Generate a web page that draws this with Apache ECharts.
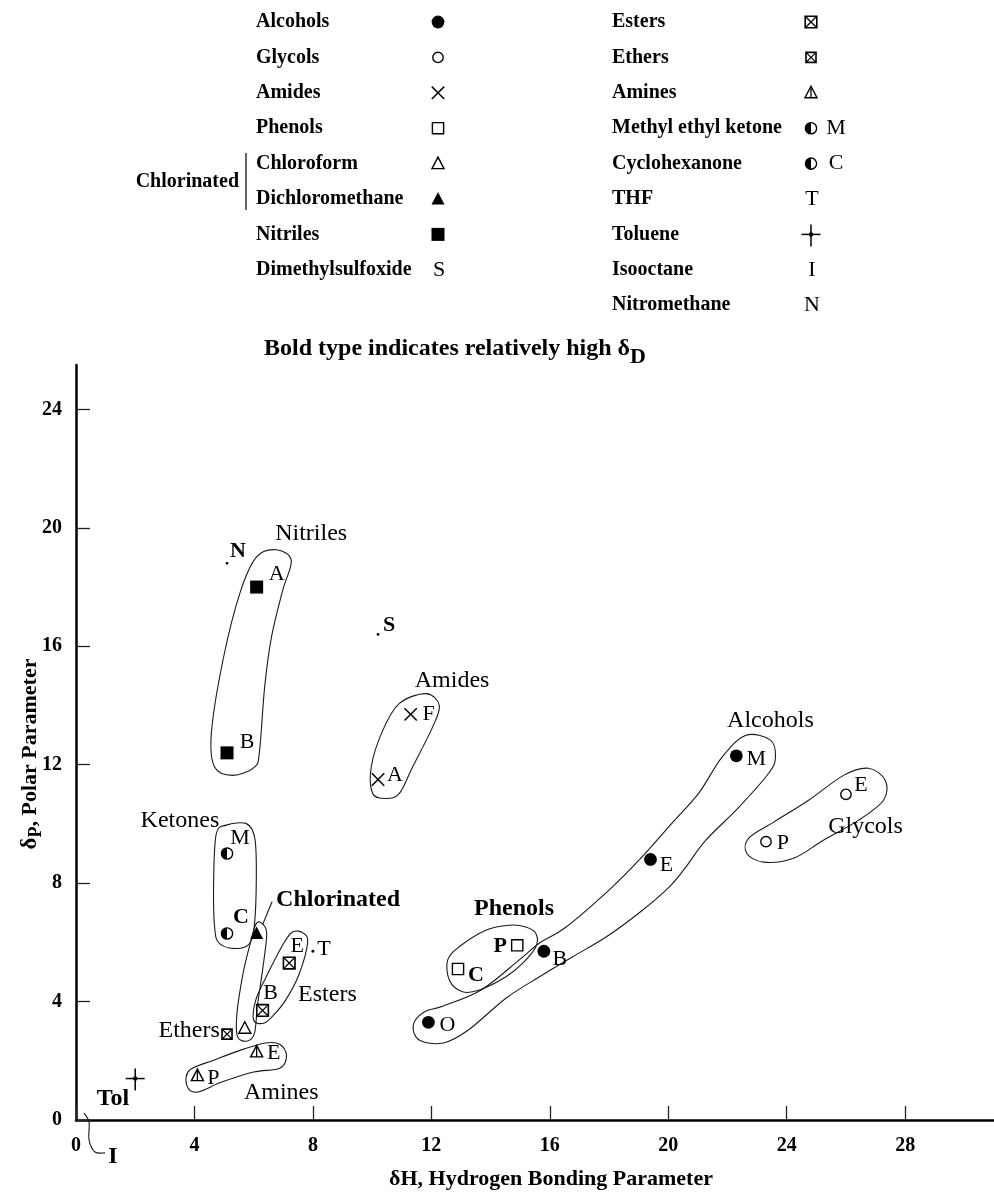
<!DOCTYPE html>
<html>
<head>
<meta charset="utf-8">
<script src="https://cdn.jsdelivr.net/npm/echarts@6/dist/echarts.min.js"></script>
<style>
html, body { margin: 0; padding: 0; background: #fff; }
#chart { width: 994px; height: 1192px; }
</style>
</head>
<body>
<div id="chart"></div>
<script>
// ---- Solvent data: [δH, δP, point letter] ----
const alcohols        = [[22.3, 12.3, 'M'], [19.4, 8.8, 'E'], [15.8, 5.7, 'B'], [11.9, 3.3, 'O']];
const glycols         = [[26.0, 11.0, 'E'], [23.3, 9.4, 'P']];
const amides          = [[11.3, 13.7, 'F'], [10.2, 11.5, 'A']];
const phenols         = [[14.9, 5.9, 'P'], [12.9, 5.1, 'C']];
const chloroform      = [[5.7, 3.1, '']];
const dichloromethane = [[6.1, 6.3, '']];
const nitriles        = [[6.1, 18.0, 'A'], [5.1, 12.4, 'B']];
const dmso            = [[10.2, 16.4, 'S']];
const esters          = [[7.2, 5.3, 'E'], [6.3, 3.7, 'B']];
const ethers          = [[5.1, 2.9, '']];
const amines          = [[6.1, 2.3, 'E'], [4.1, 1.5, 'P']];
const ketones         = [[5.1, 9.0, 'M'], [5.1, 6.3, 'C']];
const thf             = [[8.0, 5.7, 'T']];
const toluene         = [[2.0, 1.4, '']];
const isooctane       = [[0.0, 0.0, '']];
const nitromethane    = [[5.1, 18.8, 'N']];

// ---- Axis ticks ----
const xTicks = [0, 4, 8, 12, 16, 20, 24, 28];
const yTicks = [0, 4, 8, 12, 16, 20, 24];

// ---- Hand-drawn family outlines (δH, δP) ----
const nitrilesLoop = [[6.76,19.26],[7.27,18.9],[6.98,17.89],[6.6,16.31],[6.37,14.62],[6.2,12.49],[6.03,11.92],[5.29,11.64],[4.68,11.92],[4.57,13.05],[4.96,15.52],[5.53,17.78],[6.09,19.01]];
const amidesLoop   = [[11.82,14.4],[12.27,14.0],[12.04,13.27],[11.37,11.93],[10.92,11.03],[10.47,10.86],[10.02,11.03],[9.97,11.93],[10.36,13.16],[10.92,14.07]];
const alcoholsLoop = [[21.81,12.25],[22.61,12.99],[23.45,12.83],[23.62,12.25],[23.39,11.71],[22.38,10.56],[21.27,9.45],[20.59,8.54],[20.02,7.86],[19.01,6.99],[17.9,6.18],[16.75,5.5],[15.64,4.83],[14.53,4.12],[13.25,3.04],[12.4,2.6],[11.59,2.7],[11.39,3.21],[11.76,3.65],[12.4,3.85],[13.68,4.39],[14.96,5.4],[15.64,5.97],[16.54,6.51],[18.1,7.86],[19.11,8.88],[20.12,10.02],[21.03,11.04]];
const phenolsLoop  = [[15.19,6.52],[15.53,6.3],[15.53,5.85],[15.08,5.29],[14.52,4.84],[13.62,4.39],[13.05,4.33],[12.61,4.72],[12.55,5.4],[12.94,5.85],[13.84,6.41],[14.63,6.58]];
const glycolsLoop  = [[22.72,9.52],[23.56,10.06],[24.74,10.8],[25.92,11.64],[26.76,11.88],[27.33,11.47],[27.27,10.8],[26.42,10.12],[25.24,9.45],[24.23,8.84],[23.22,8.71],[22.65,9.01]];
const ketonesLoop  = [[5.08,9.96],[5.75,10.01],[6.03,9.56],[6.09,8.44],[6.03,6.64],[5.86,5.96],[5.42,5.79],[4.85,5.96],[4.68,6.52],[4.65,8.21],[4.74,9.68]];
const chlorLoop    = [[6.09,6.64],[6.34,6.58],[6.44,6.24],[6.3,5.06],[6.13,3.88],[6.03,2.94],[5.8,2.67],[5.46,2.8],[5.43,3.54],[5.63,4.89],[5.86,5.87]];
const estersLoop   = [[7.31,6.35],[7.68,6.31],[7.82,5.97],[7.52,4.89],[7.08,4.05],[6.67,3.54],[6.34,3.27],[6.0,3.37],[6.07,4.05],[6.4,4.79],[6.98,5.91]];
const aminesLoop   = [[6.4,2.6],[6.88,2.56],[7.11,2.19],[6.88,1.75],[6.0,1.62],[4.92,1.28],[4.08,0.94],[3.74,1.18],[3.84,1.69],[4.68,2.03],[5.56,2.36]];
const outlines = [nitrilesLoop, amidesLoop, alcoholsLoop, phenolsLoop, glycolsLoop, ketonesLoop, chlorLoop, estersLoop, aminesLoop];

// Leader strokes: "Chlorinated" tag and the isooctane hook at the origin
const chlorLeader = [[6.62, 7.37], [6.3, 6.6]];
const isoLeader   = [[0.27, 0.24], [0.44, -0.07], [0.44, -0.67], [0.64, -1.08], [0.98, -1.11]];
const leaders = [chlorLeader, isoLeader];

// Family names written on the plot
const familyNames = ['Nitriles', 'Amides', 'Alcohols', 'Glycols', 'Ketones', 'Chlorinated', 'Phenols', 'Esters', 'Ethers', 'Amines', 'Tol', 'I'];
const familyBold  = ['Chlorinated', 'Phenols', 'Tol', 'I'];
const familyAnchors = [[7.94,19.8],[12.7,14.85],[23.45,13.5],[26.66,9.89],[3.51,10.12],[8.85,7.45],[14.79,7.15],[8.49,4.22],[3.82,3.0],[6.93,0.91],[1.25,0.71],[1.25,-1.25]];

// ---- Legend ----
const legendLeftNames  = ['Alcohols', 'Glycols', 'Amides', 'Phenols', 'Chloroform', 'Dichloromethane', 'Nitriles', 'Dimethylsulfoxide'];
const legendLeftKeys   = ['dot', 'ring', 'cross', 'square', 'tri', 'triFill', 'squareFill', 'S'];
const legendRightNames = ['Esters', 'Ethers', 'Amines', 'Methyl ethyl ketone', 'Cyclohexanone', 'THF', 'Toluene', 'Isooctane', 'Nitromethane'];
const legendRightKeys  = ['boxX', 'boxXs', 'triBar', 'half', 'half', 'T', 'plus', 'I', 'N'];
const legendRightTags  = ['', '', '', 'M', 'C', '', '', '', ''];
const titleText = 'Bold type indicates relatively high δ';
const titleSub = 'D';

// ---- Styles ----
const SERIF = '"Liberation Serif", "Times New Roman", serif';
const INK = '#000';

// marker glyph and letter placement per family
const groupStyle = {
  alcohols:        { kind: 'dot',        labels: { M: [20, 3], E: [16, 6], B: [16, 8], O: [19, 3] } },
  glycols:         { kind: 'ring',       labels: { E: [15, -9], P: [17, 2] } },
  amides:          { kind: 'cross',      labels: { F: [18, 0], A: [17, -4] } },
  phenols:         { kind: 'square',     labels: { P: [-17, 1, true], C: [18, 6, true] } },
  chloroform:      { kind: 'tri' },
  dichloromethane: { kind: 'triFill' },
  nitriles:        { kind: 'squareFill', labels: { A: [20, -13], B: [20, -11] } },
  dmso:            { kind: 'pt',         labels: { S: [11, -9, true] } },
  esters:          { kind: 'boxX',       labels: { E: [8, -17], B: [8, -17] } },
  ethers:          { kind: 'boxXs' },
  amines:          { kind: 'triBar',     labels: { E: [17, 1], P: [16, 3] } },
  ketones:         { kind: 'half',       labels: { M: [13, -15], C: [14, -16, true] } },
  thf:             { kind: 'pt',         labels: { T: [11, -2] } },
  toluene:         { kind: 'plus' },
  isooctane:       { kind: 'none' },
  nitromethane:    { kind: 'pt',         labels: { N: [11, -12, true] } }
};
const groups = { alcohols, glycols, amides, phenols, chloroform, dichloromethane, nitriles, dmso,
  esters, ethers, amines, ketones, thf, toluene, isooctane, nitromethane };

function seg(x1, y1, x2, y2, w) {
  return { type: 'line', shape: { x1, y1, x2, y2 }, style: { stroke: INK, lineWidth: w || 1.5 } };
}
function txt(str, x, y, bold, size, align) {
  const font = (bold ? 'bold ' : '') + (size || 22) + 'px ' + SERIF;
  const a = align || 'center';
  return { type: 'text', x, y, style: { text: str, font, fill: INK,
    align: a, textAlign: a, verticalAlign: 'middle', textVerticalAlign: 'middle' } };
}
function markerEls(kind, cx, cy) {
  const open = { fill: '#fff', stroke: INK, lineWidth: 1.4 };
  switch (kind) {
    case 'dot': return [{ type: 'circle', shape: { cx, cy, r: 6.4 }, style: { fill: INK } }];
    case 'ring': return [{ type: 'circle', shape: { cx, cy, r: 5.2 }, style: open }];
    case 'cross': { const h = 6.2; return [seg(cx - h, cy - h, cx + h, cy + h), seg(cx - h, cy + h, cx + h, cy - h)]; }
    case 'square': { const h = 5.6; return [{ type: 'rect', shape: { x: cx - h, y: cy - h, width: 2 * h, height: 2 * h }, style: open }]; }
    case 'squareFill': { const h = 6.5; return [{ type: 'rect', shape: { x: cx - h, y: cy - h, width: 2 * h, height: 2 * h }, style: { fill: INK } }]; }
    case 'tri': return [{ type: 'polygon', shape: { points: [[cx, cy - 6.5], [cx + 6, cy + 5], [cx - 6, cy + 5]] }, style: open }];
    case 'triFill': return [{ type: 'polygon', shape: { points: [[cx, cy - 7], [cx + 6.5, cy + 5.5], [cx - 6.5, cy + 5.5]] }, style: { fill: INK } }];
    case 'boxX': case 'boxXs': {
      const h = kind === 'boxX' ? 5.8 : 5;
      return [{ type: 'rect', shape: { x: cx - h, y: cy - h, width: 2 * h, height: 2 * h }, style: { fill: '#fff', stroke: INK, lineWidth: 1.6 } },
        seg(cx - h, cy - h, cx + h, cy + h, 1.3), seg(cx - h, cy + h, cx + h, cy - h, 1.3)];
    }
    case 'triBar': return [{ type: 'polygon', shape: { points: [[cx, cy - 6.5], [cx + 6, cy + 5], [cx - 6, cy + 5]] }, style: open },
      seg(cx, cy - 5, cx, cy + 5, 1.3)];
    case 'half': return [{ type: 'circle', shape: { cx, cy, r: 5.6 }, style: { fill: '#fff', stroke: INK, lineWidth: 1.4 } },
      { type: 'sector', shape: { cx, cy, r0: 0, r: 5.6, startAngle: Math.PI / 2, endAngle: Math.PI * 1.5, clockwise: true }, style: { fill: INK } }];
    case 'plus': return [seg(cx - 9.5, cy, cx + 9.5, cy, 1.5), seg(cx, cy - 10, cx, cy + 12, 1.5),
      { type: 'circle', shape: { cx, cy, r: 2.2 }, style: { fill: INK } }];
    case 'pt': return [{ type: 'circle', shape: { cx, cy, r: 1.4 }, style: { fill: INK } }];
    default: return [];
  }
}

// Catmull-Rom spline through pixel points
function splinePath(pts, closed) {
  const n = pts.length;
  const at = i => closed ? pts[(i + n) % n] : pts[Math.max(0, Math.min(n - 1, i))];
  let d = 'M' + pts[0][0] + ',' + pts[0][1];
  const last = closed ? n : n - 1;
  for (let i = 0; i < last; i++) {
    const p0 = at(i - 1), p1 = at(i), p2 = at(i + 1), p3 = at(i + 2);
    const c1 = [p1[0] + (p2[0] - p0[0]) / 6, p1[1] + (p2[1] - p0[1]) / 6];
    const c2 = [p2[0] - (p3[0] - p1[0]) / 6, p2[1] - (p3[1] - p1[1]) / 6];
    d += ' C' + c1[0] + ',' + c1[1] + ' ' + c2[0] + ',' + c2[1] + ' ' + p2[0] + ',' + p2[1];
  }
  return closed ? d + ' Z' : d;
}

function groupSeries(name) {
  const arr = groups[name], st = groupStyle[name];
  return {
    type: 'custom', name, silent: true, z: 5,
    data: arr.map(d => [d[0], d[1]]),
    encode: { x: 0, y: 1 },
    renderItem: (params, api) => {
      const p = api.coord([api.value(0), api.value(1)]);
      const kids = markerEls(st.kind, p[0], p[1]);
      const letter = arr[params.dataIndex][2];
      const lab = st.labels && st.labels[letter];
      if (letter && lab) kids.push(txt(letter, p[0] + lab[0], p[1] + lab[1], !!lab[2], 22));
      return { type: 'group', children: kids };
    }
  };
}

const series = [
  {
    type: 'custom', name: 'outlines', silent: true, z: 2,
    data: outlines.map(o => o[0]), encode: { x: 0, y: 1 },
    renderItem: (params, api) => ({
      type: 'path',
      shape: { pathData: splinePath(outlines[params.dataIndex].map(q => api.coord(q)), true) },
      style: { fill: 'none', stroke: '#1a1a1a', lineWidth: 1.1 }
    })
  },
  {
    type: 'custom', name: 'leaders', silent: true, z: 2,
    data: leaders.map(o => o[0]), encode: { x: 0, y: 1 },
    renderItem: (params, api) => ({
      type: 'path',
      shape: { pathData: splinePath(leaders[params.dataIndex].map(q => api.coord(q)), false) },
      style: { fill: 'none', stroke: '#1a1a1a', lineWidth: 1.1 }
    })
  },
  {
    type: 'custom', name: 'families', silent: true, z: 6,
    data: familyAnchors, encode: { x: 0, y: 1 },
    renderItem: (params, api) => {
      const p = api.coord([api.value(0), api.value(1)]);
      const name = familyNames[params.dataIndex];
      return txt(name, p[0], p[1], familyBold.indexOf(name) >= 0, 24);
    }
  }
].concat(Object.keys(groups).map(groupSeries));

// ---- Legend, title and axis names as graphic elements ----
const measureCtx = document.createElement('canvas').getContext('2d');
function textWidth(str, font) { measureCtx.font = font; return measureCtx.measureText(str).width; }

const graphics = [];
const LEG_FONT = 20;
legendLeftNames.forEach((nm, i) => {
  const y = 22 + 35.4 * i;
  graphics.push(txt(nm, 256, y, true, LEG_FONT, 'left'));
  const key = legendLeftKeys[i];
  if (key.length === 1) graphics.push(txt(key, 439, y, false, 22));
  else markerEls(key, 438, y).forEach(e => graphics.push(e));
});
legendRightNames.forEach((nm, i) => {
  const y = 22 + 35.4 * i;
  graphics.push(txt(nm, 612, y, true, LEG_FONT, 'left'));
  const key = legendRightKeys[i];
  if (key.length === 1) graphics.push(txt(key, 812, y, false, 22));
  else markerEls(key, 811, y).forEach(e => graphics.push(e));
  if (legendRightTags[i]) graphics.push(txt(legendRightTags[i], 836, y, false, 22));
});
graphics.push(txt('Chlorinated', 239, 181.5, true, LEG_FONT, 'right'));
graphics.push({ type: 'line', shape: { x1: 246, y1: 153, x2: 246, y2: 210 }, style: { stroke: INK, lineWidth: 1.2 } });

// title with subscript D
const tFont = 'bold 24px ' + SERIF, sFont = 'bold 22px ' + SERIF;
const tW = textWidth(titleText, tFont), sW = textWidth(titleSub, sFont);
const tX = 455 - (tW + sW) / 2;
graphics.push(txt(titleText, tX, 349, true, 24, 'left'));
graphics.push(txt(titleSub, tX + tW, 357, true, 22, 'left'));

// x axis name
graphics.push(txt('δH, Hydrogen Bonding Parameter', 551, 1179, true, 22));

// y axis name (rotated) with subscript P
const yA = 'δ', yB = 'P', yC = ', Polar Parameter';
const yAF = 'bold 23px ' + SERIF, yBF = 'bold 18px ' + SERIF, yCF = 'bold 22px ' + SERIF;
const wA = textWidth(yA, yAF), wB = textWidth(yB, yBF), wC = textWidth(yC, yCF);
const y0 = -(wA + wB + wC) / 2;
graphics.push({
  type: 'group', x: 30, y: 754, rotation: Math.PI / 2,
  children: [
    txt(yA, y0, 0, true, 23, 'left'),
    txt(yB, y0 + wA, 6, true, 18, 'left'),
    txt(yC, y0 + wA + wB, 0, true, 22, 'left')
  ]
});

const axisFont = { fontFamily: SERIF, fontWeight: 'bold', fontSize: 20, color: INK };
const option = {
  animation: false,
  backgroundColor: '#fff',
  grid: { left: 76, right: 0, top: 365, bottom: 72, containLabel: false, outerBoundsMode: 'none' },
  xAxis: {
    type: 'value', min: 0, max: 31,
    axisLine: { show: true, onZero: false, lineStyle: { color: INK, width: 2.5 } },
    axisTick: { show: true, inside: true, length: 14, customValues: xTicks, lineStyle: { color: '#222', width: 1.3 } },
    axisLabel: Object.assign({ customValues: xTicks, margin: 16 }, axisFont),
    splitLine: { show: false }
  },
  yAxis: {
    type: 'value', min: 0, max: 25.5,
    axisLine: { show: true, onZero: false, lineStyle: { color: INK, width: 2.5 } },
    axisTick: { show: true, inside: true, length: 14, customValues: yTicks, lineStyle: { color: '#222', width: 1.3 } },
    axisLabel: Object.assign({ customValues: yTicks, margin: 14 }, axisFont),
    splitLine: { show: false }
  },
  graphic: graphics,
  series
};

const chart = echarts.init(document.getElementById('chart'), null, { renderer: 'canvas' });
chart.setOption(option);
</script>
</body>
</html>
